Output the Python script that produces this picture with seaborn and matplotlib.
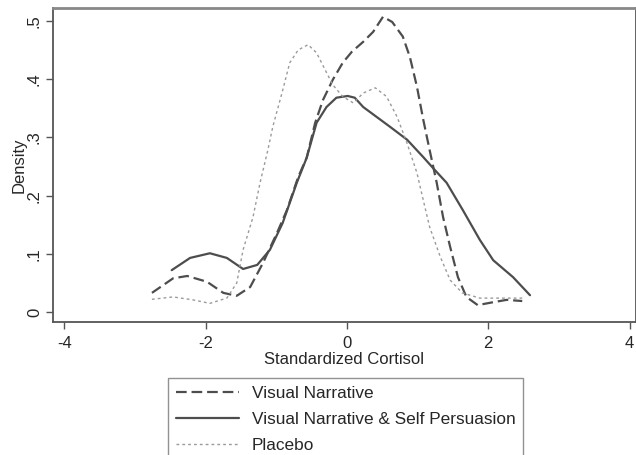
import numpy as np
import pandas as pd
import seaborn as sns
import matplotlib.pyplot as plt

# Kernel density curves
vn_x = [-2.76, -2.46, -2.26, -1.98, -1.75, -1.56, -1.37, -1.19, -0.99, -0.85, -0.69, -0.57,
        -0.45, -0.34, -0.20, -0.06, 0.07, 0.23, 0.37, 0.51, 0.64, 0.79, 0.89, 0.99, 1.08,
        1.17, 1.27, 1.36, 1.46, 1.57, 1.69, 1.85, 2.07, 2.26, 2.48]
vn_y = [0.033, 0.058, 0.062, 0.052, 0.033, 0.028, 0.043, 0.084, 0.136, 0.175, 0.232, 0.265,
        0.325, 0.364, 0.399, 0.428, 0.447, 0.464, 0.481, 0.507, 0.498, 0.473, 0.438, 0.387,
        0.330, 0.278, 0.222, 0.163, 0.112, 0.060, 0.026, 0.012, 0.017, 0.021, 0.019]

vnsp_x = [-2.48, -2.22, -1.94, -1.70, -1.47, -1.27, -1.09, -0.91, -0.71, -0.57, -0.43, -0.29,
          -0.15, 0.01, 0.11, 0.23, 0.42, 0.61, 0.85, 1.08, 1.22, 1.41, 1.64, 1.88, 2.07,
          2.35, 2.59]
vnsp_y = [0.072, 0.093, 0.101, 0.093, 0.074, 0.081, 0.107, 0.153, 0.222, 0.265, 0.325, 0.352,
          0.368, 0.371, 0.368, 0.352, 0.335, 0.318, 0.296, 0.266, 0.247, 0.222, 0.175, 0.124,
          0.089, 0.060, 0.029]

pl_x = [-2.76, -2.46, -2.18, -1.94, -1.70, -1.56, -1.47, -1.33, -1.23, -1.12, -1.05, -0.92,
        -0.81, -0.69, -0.55, -0.43, -0.31, -0.20, -0.06, 0.09, 0.23, 0.40, 0.56, 0.71, 0.85,
        0.99, 1.08, 1.17, 1.32, 1.46, 1.63, 1.88, 2.16, 2.48]
pl_y = [0.022, 0.026, 0.021, 0.015, 0.024, 0.050, 0.107, 0.163, 0.222, 0.278, 0.318, 0.376,
        0.428, 0.450, 0.459, 0.445, 0.416, 0.390, 0.370, 0.359, 0.376, 0.385, 0.370, 0.335,
        0.290, 0.239, 0.192, 0.146, 0.095, 0.055, 0.033, 0.024, 0.024, 0.024]

labels = ['Visual Narrative', 'Visual Narrative & Self Persuasion', 'Placebo']
xticks = [-4, -2, 0, 2, 4]
yticks = [0, 0.1, 0.2, 0.3, 0.4, 0.5]
ytick_labels = ['0', '.1', '.2', '.3', '.4', '.5']

sns.set_style("white")
plt.rcParams['font.family'] = ['Liberation Sans', 'DejaVu Sans']

fig = plt.figure(figsize=(6.36, 4.55), dpi=100)
ax = fig.add_axes([53 / 636, 133 / 455, 583 / 636, 314 / 455])

series = [
    (vn_x, vn_y, '#4d4d4d', (0, (4.8, 2.2)), 1.6),
    (vnsp_x, vnsp_y, '#4d4d4d', '-', 1.6),
    (pl_x, pl_y, '#9a9a9a', (0, (2, 2.2)), 1.0),
]
for (xs, ys, col, ls, lw), lab in zip(series, labels):
    sns.lineplot(x=xs, y=ys, ax=ax, color=col, linestyle=ls, linewidth=lw,
                 sort=False, label=lab, legend=False)

ax.set_xlim(-4.16, 4.09)
ax.set_ylim(-0.017, 0.522)
ax.set_xticks(xticks)
ax.set_xticklabels([str(t) for t in xticks], fontsize=12)
ax.set_yticks(yticks)
ax.set_yticklabels(ytick_labels, fontsize=12, rotation=90, va='center')
ax.tick_params(axis='both', direction='out', length=5, width=1, color='#555555',
               bottom=True, left=True)
ax.tick_params(axis='x', pad=5)
ax.tick_params(axis='y', pad=3)
ax.set_xlabel('Standardized Cortisol', fontsize=12, labelpad=1)
ax.set_ylabel('Density', fontsize=12, labelpad=0)
for sp in ax.spines.values():
    sp.set_color('#555555')
    sp.set_linewidth(1.3)
ax.spines['top'].set_color('#888888')
ax.spines['top'].set_linewidth(2)

handles, labs = ax.get_legend_handles_labels()
fig.legend(handles, labs, loc='upper left', bbox_to_anchor=(168 / 636, 1 - 378 / 455),
           borderaxespad=0, frameon=True, fancybox=False, edgecolor='#777777', fontsize=12.4,
           handlelength=3.7, handletextpad=0.7, labelspacing=0.65, borderpad=0.45)

fig.savefig('out.png', dpi=100)
